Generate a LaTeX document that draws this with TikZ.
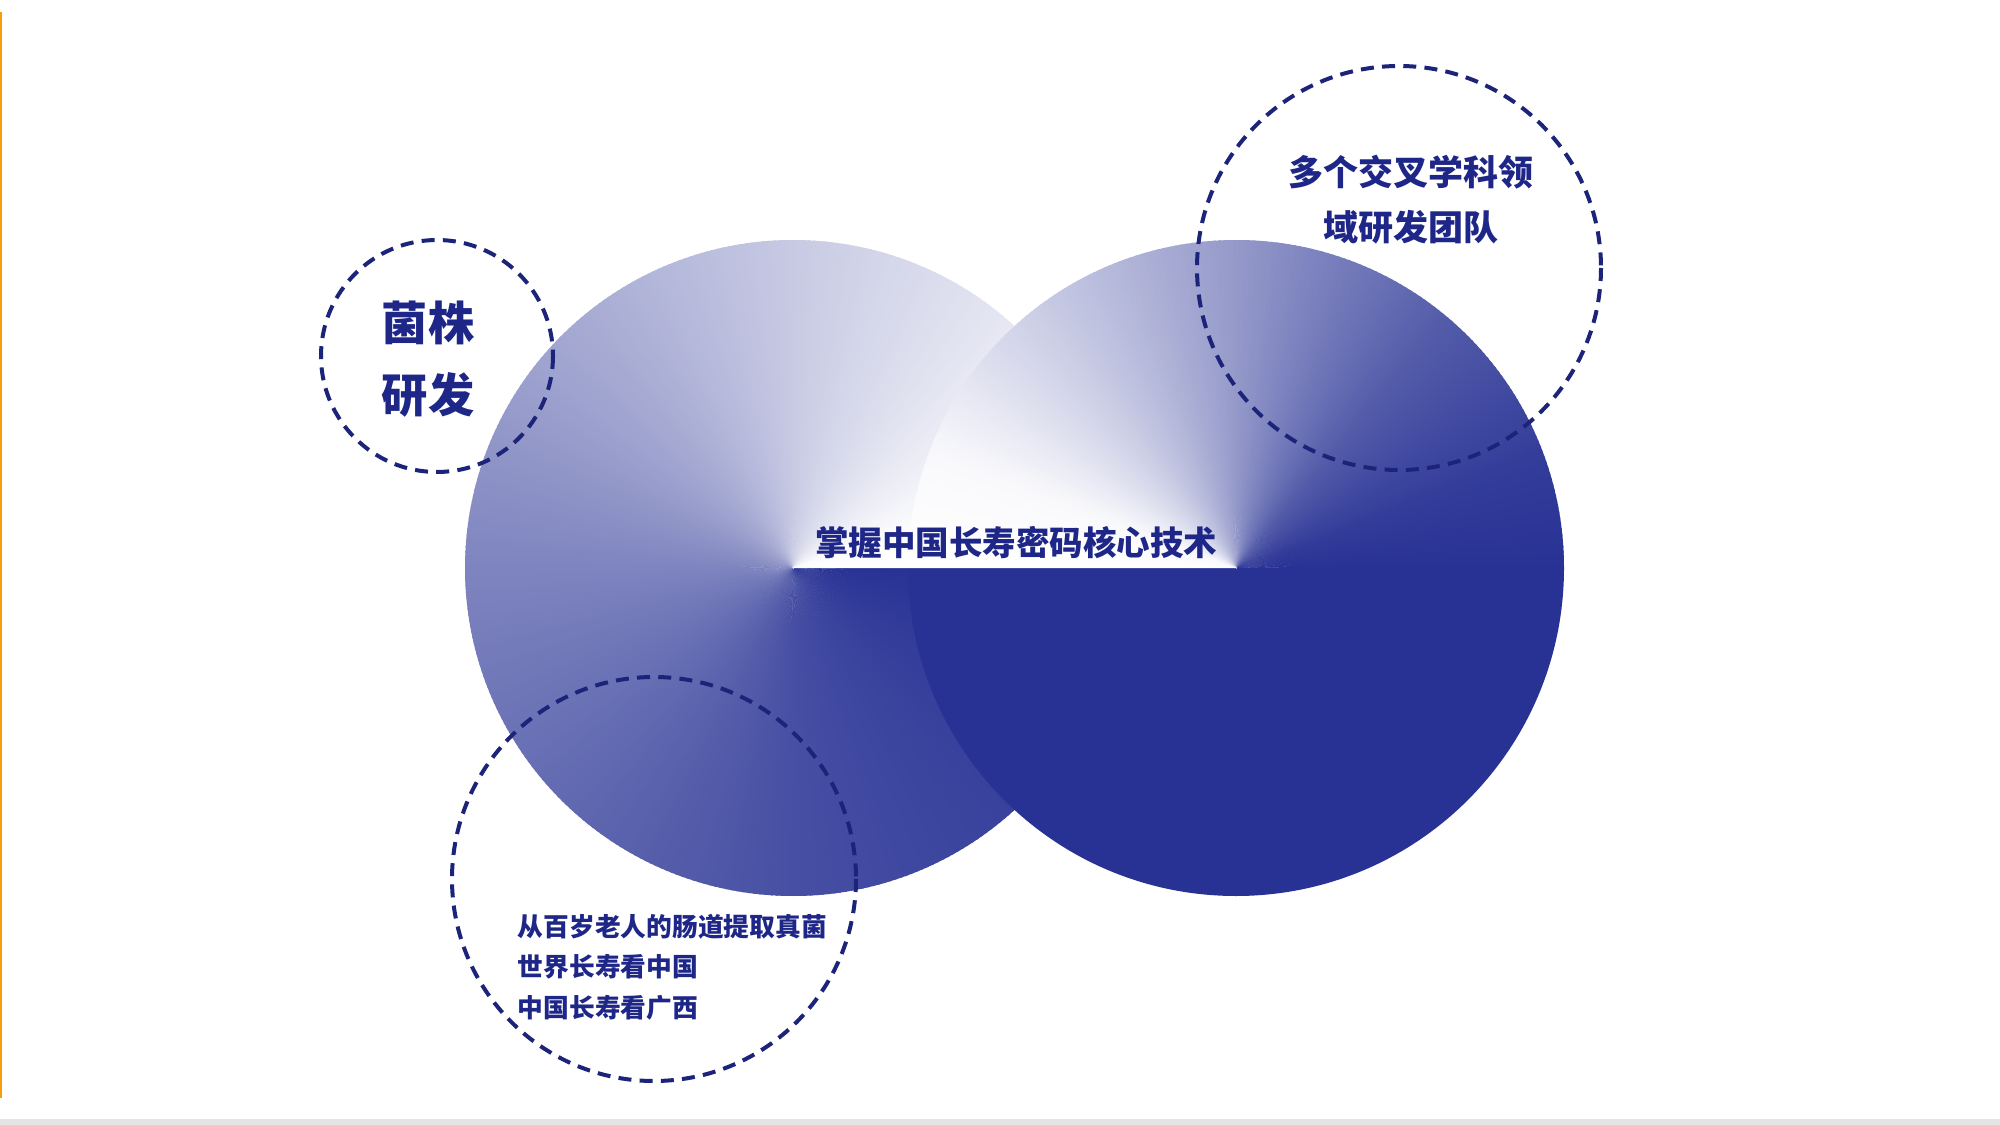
\documentclass[tikz,border=0pt]{standalone}
\usepackage{fontspec}
\newfontfamily\cjk{Noto Sans CJK SC}
\definecolor{deepblue}{RGB}{40,50,148}
\definecolor{inkblue}{RGB}{30,38,136}
\definecolor{ringblue}{RGB}{28,36,122}
\definecolor{edgeorange}{RGB}{245,158,11}
\tikzset{every picture/.style={line width=0.75pt}}
\tikzset{
  ringline/.style={draw=ringblue, line width=1.6pt, dash pattern=on 5.2pt off 3.3pt},
  bluetext/.style={text=inkblue, inner sep=0pt}
}

\begin{document}
\begin{tikzpicture}[x=0.4pt,y=0.4pt,yscale=-1,xscale=1]
\useasboundingbox (0,0) rectangle (2000,1125);
\fill[white] (0,0) rectangle (2000,1125);
%Page edges
\draw[edgeorange, line width=0.8pt] (1,12) -- (1,1098);
\fill[black!10] (0,1119) rectangle (2000,1125);
%Shape: Circle, left, angular fill
\foreach \k in {359,358,...,0}{
  \pgfmathsetmacro\t{\k+0.5}
  \pgfmathsetmacro\p{\t<20 ? 0.1*\t : (\t<90 ? 2+(\t-20)*24/70 : (\t<180 ? 26+(\t-90)*34/90 : (\t<270 ? 60+(\t-180)*26/90 : 86+(\t-270)*14/90)))}
  \fill[deepblue!\p!white] (793,568) -- ++(-\k:328) arc[start angle=-\k, end angle=-\k-1.5, radius=328] -- cycle;
}
%Shape: Circle, right, angular fill
\fill[deepblue] (1236,568) -- ++(0:328) arc[start angle=0, end angle=180, radius=328] -- cycle;
\foreach \k in {179,178,...,0}{
  \pgfmathsetmacro\t{\k+0.5}
  \pgfmathsetmacro\a{\k-180}
  \pgfmathsetmacro\b{\k-178.5}
  \pgfmathsetmacro\p{\t<20 ? 0.15*\t : (\t<90 ? 3+(\t-20)*47/70 : (\t<130 ? 50+(\t-90)*30/40 : (\t<160 ? 80+(\t-130)*15/30 : 95+(\t-160)*5/20)))}
  \fill[deepblue!\p!white] (1236,568) -- ++(\a:328) arc[start angle=\a, end angle=\b, radius=328] -- cycle;
}
%Shape: Circle [dashed]
\draw[ringline] (437,356) circle[radius=116];
%Shape: Circle [dashed]
\draw[ringline] (1399,268) circle[radius=202];
%Shape: Circle [dashed]
\draw[ringline] (654,879) circle[radius=202];
% Text Node
\draw (1016,543) node (coreTxt) [bluetext, font=\cjk\bfseries\fontsize{13.4}{16}\selectfont] {掌握中国长寿密码核心技术};
% Text Node
\draw (428,359) node (strainTxt) [bluetext, font=\cjk\bfseries\fontsize{18.5}{28.8}\selectfont, align=center] {菌株\\研发};
% Text Node
\draw (1411,200) node (teamTxt) [bluetext, font=\cjk\bfseries\fontsize{14}{22}\selectfont, align=center] {多个交叉学科领\\域研发团队};
% Text Node
\draw (517,967) node (elderTxt) [bluetext, anchor=west, font=\cjk\bfseries\fontsize{10.3}{16.2}\selectfont, align=left] {从百岁老人的肠道提取真菌\\世界长寿看中国\\中国长寿看广西};
\end{tikzpicture}
\end{document}
